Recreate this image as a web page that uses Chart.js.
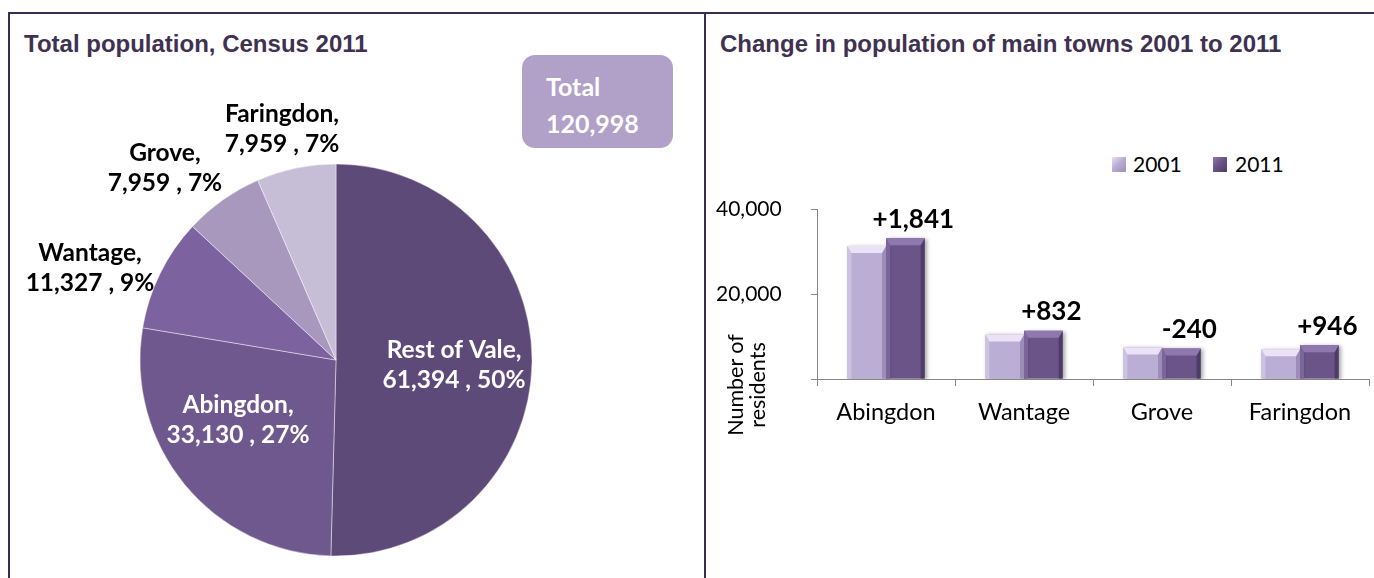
<!DOCTYPE html>
<html>
<head>
<meta charset="utf-8">
<script src="https://cdn.jsdelivr.net/npm/chart.js@4.4.0/dist/chart.umd.min.js"></script>
<style>
    body { margin: 0; width: 1374px; height: 578px; overflow: hidden; background: #fff; position: relative; font-family: Lato, sans-serif; }
    .line { position: absolute; background: #3b2d4f; }
    .title { position: absolute; top: 30px; font: bold 24px "Liberation Sans", Arial, sans-serif; color: #3f3151; white-space: nowrap; }
    #pieWrap { position: absolute; left: 10px; top: 62px; }
    #barWrap { position: absolute; left: 710px; top: 180px; }
    #total { position: absolute; left: 522px; top: 55px; width: 151px; height: 93px; border-radius: 13px; background: #b1a0c7;
        color: #fff; font: bold 25px Lato, sans-serif; box-sizing: border-box; padding: 13px 0 0 24px; line-height: 37px; }
    #ytitle { position: absolute; left: 682px; top: 362px; width: 130px; height: 46px; line-height: 22px; font-size: 21.5px;
        text-align: center; color: #000; transform: rotate(-90deg); }
    .lg-box { position: absolute; top: 157px; width: 14px; height: 15px; }
    .lg-text { position: absolute; top: 151px; font-size: 21px; color: #000; }
</style>
</head>
<body>
<div class="line" style="left:8px; top:12px; width:1366px; height:2px;"></div>
<div class="line" style="left:8px; top:12px; width:2px; height:566px;"></div>
<div class="line" style="left:704px; top:12px; width:2px; height:566px;"></div>

<div class="title" style="left:24px;">Total population, Census 2011</div>
<div class="title" style="left:720px;">Change in population of main towns 2001 to 2011</div>

<div id="pieWrap"><canvas id="pieChart" width="652" height="516"></canvas></div>
<div id="total">Total<br>120,998</div>

<div id="barWrap"><canvas id="barChart" width="664" height="260"></canvas></div>
<div id="ytitle">Number of<br>residents</div>

<div class="lg-box" style="left:1112px; background:linear-gradient(135deg,#e9e0f3,#bbaed5 45%,#9d8fb8);"></div>
<div class="lg-text" style="left:1133px;">2001</div>
<div class="lg-box" style="left:1213px; background:linear-gradient(135deg,#8d76ab,#6a5488 45%,#4e3d66);"></div>
<div class="lg-text" style="left:1235px;">2011</div>

<script>
// pie data
const pieNames = ["Rest of Vale", "Abingdon", "Wantage", "Grove", "Faringdon"];
const pieValues = [61394, 33130, 11327, 7959, 7959];
const piePercents = [50, 27, 9, 7, 7];
const pieColors = ["#5e4a79", "#6f588d", "#7d62a0", "#a898bd", "#c6bed6"];
const pieTextColors = ["#fff", "#fff", "#000", "#000", "#000"];
// [radius factor, angle shift in degrees] for each label
const pieLabelPlace = [[0.603, 1.9], [0.585, 8.2], [1.339, -5.8], [1.312, -6.4], [1.21, -1.4]];

// bar data
const towns = ["Abingdon", "Wantage", "Grove", "Faringdon"];
const pop2001 = [31289, 10495, 7428, 7013];
const pop2011 = [33130, 11327, 7188, 7959];
const changeLabels = ["+1,841", "+832", "-240", "+946"];
const yTicks = [0, 20000, 40000];

const barStyles = [
    { face: "#bbaed5", top: "#ebe3f5", left: "#cdc2e2", right: "#9b8db6" },
    { face: "#6a5488", top: "#8f78ad", left: "#7b659a", right: "#4d3c65" },
];

const pieLabels = {
    id: "pieLabels",
    afterDatasetsDraw(chart) {
        const ctx = chart.ctx;
        const meta = chart.getDatasetMeta(0);
        ctx.save();
        ctx.font = "bold 24.5px Lato";
        ctx.textAlign = "center";
        ctx.textBaseline = "middle";
        meta.data.forEach((arc, i) => {
            const p = arc.getProps(["x", "y", "startAngle", "endAngle", "outerRadius"], true);
            const a = (p.startAngle + p.endAngle) / 2 + pieLabelPlace[i][1] * Math.PI / 180;
            const r = p.outerRadius * pieLabelPlace[i][0];
            const lx = p.x + Math.cos(a) * r;
            const ly = p.y + Math.sin(a) * r;
            ctx.fillStyle = pieTextColors[i];
            ctx.fillText(pieNames[i] + ",", lx, ly - 15);
            ctx.fillText(pieValues[i].toLocaleString("en-US") + " , " + piePercents[i] + "%", lx, ly + 15);
        });
        ctx.restore();
    },
};

new Chart(document.getElementById("pieChart"), {
    type: "pie",
    data: {
        labels: pieNames,
        datasets: [
            {
                data: pieValues,
                backgroundColor: pieColors,
                borderColor: "rgba(255,255,255,0.55)",
                borderWidth: 0.8,
                hoverOffset: 0,
                radius: 196,
            },
        ],
    },
    options: {
        responsive: false,
        animation: false,
        layout: { padding: { top: 80 } },
        plugins: { legend: { display: false }, tooltip: { enabled: false } },
    },
    plugins: [pieLabels],
});

const poly = (ctx, pts, fill) => {
    ctx.beginPath();
    ctx.moveTo(pts[0][0], pts[0][1]);
    pts.slice(1).forEach((p) => ctx.lineTo(p[0], p[1]));
    ctx.closePath();
    ctx.fillStyle = fill;
    ctx.fill();
};

const barBevel = {
    id: "barBevel",
    beforeDatasetsDraw(chart) {
        const ctx = chart.ctx;
        ctx.save();
        ctx.shadowColor = "rgba(0,0,0,0.35)";
        ctx.shadowBlur = 4;
        ctx.shadowOffsetX = 2;
        ctx.shadowOffsetY = 1;
    },
    afterDatasetsDraw(chart) {
        const ctx = chart.ctx;
        ctx.restore();
        ctx.save();
        chart.data.datasets.forEach((ds, di) => {
            const st = barStyles[di];
            chart.getDatasetMeta(di).data.forEach((bar) => {
                const { x, y, width, base } = bar.getProps(["x", "y", "width", "base"], true);
                const l = x - width / 2, r = x + width / 2, d = 4;
                poly(ctx, [[l, y], [l + d, y + d + 3], [l + d, base], [l, base]], st.left);
                poly(ctx, [[r, y], [r - d, y + d + 3], [r - d, base], [r, base]], st.right);
                poly(ctx, [[l, y], [r, y], [r - d, y + d + 3], [l + d, y + d + 3]], st.top);
            });
        });
        // change labels over the 2011 bars
        ctx.font = "bold 26px Lato";
        ctx.fillStyle = "#000";
        ctx.textAlign = "center";
        ctx.textBaseline = "bottom";
        chart.getDatasetMeta(1).data.forEach((bar, i) => {
            ctx.fillText(changeLabels[i], bar.x + 8, bar.y - 6);
        });
        ctx.restore();
    },
};

new Chart(document.getElementById("barChart"), {
    type: "bar",
    data: {
        labels: towns,
        datasets: [
            { label: "2001", data: pop2001, backgroundColor: barStyles[0].face },
            { label: "2011", data: pop2011, backgroundColor: barStyles[1].face },
        ],
    },
    options: {
        responsive: false,
        animation: false,
        layout: { padding: { top: 29, right: 5, left: 6, bottom: 0 } },
        datasets: { bar: { categoryPercentage: 0.56, barPercentage: 1 } },
        plugins: { legend: { display: false }, tooltip: { enabled: false } },
        scales: {
            x: {
                grid: { drawOnChartArea: false, drawTicks: true, tickLength: 7, color: "#868686", offset: true },
                border: { color: "#868686" },
                ticks: { color: "#000", font: { family: "Lato", size: 23.5 }, padding: 12 },
                afterFit: (s) => { s.height = 61; },
            },
            y: {
                min: yTicks[0],
                max: yTicks[yTicks.length - 1],
                afterBuildTicks: (s) => { s.ticks = yTicks.map((v) => ({ value: v })); },
                ticks: {
                    color: "#000",
                    font: { family: "Lato", size: 21 },
                    padding: 0,
                    crossAlign: "far",
                    callback: (v) => (v === 0 ? "" : v.toLocaleString("en-US")),
                },
                grid: { drawOnChartArea: false, tickLength: 6, color: "#868686" },
                border: { color: "#868686" },
                afterFit: (s) => { s.width = 101; },
            },
        },
    },
    plugins: [barBevel],
});
</script>
</body>
</html>
